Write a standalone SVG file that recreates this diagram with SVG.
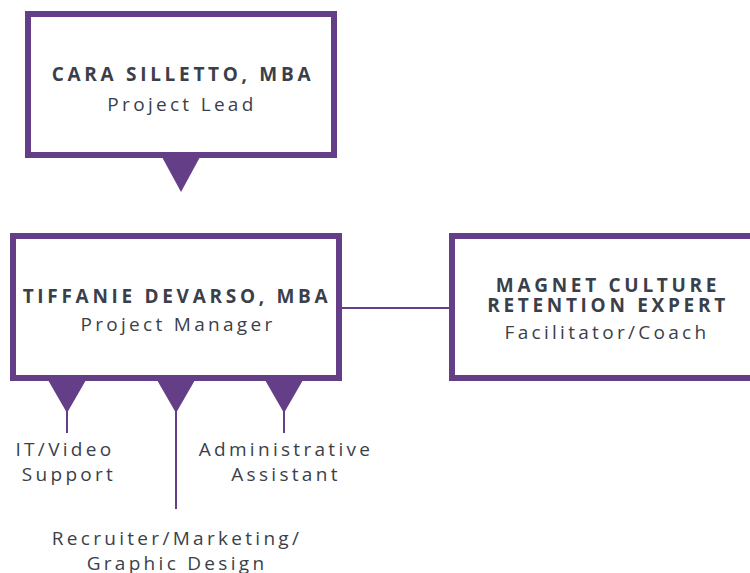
<svg xmlns="http://www.w3.org/2000/svg" width="750" height="573" viewBox="0 0 750 573">
  <style>
    .box { fill: #ffffff; stroke: #643f88; stroke-width: 6; }
    .pin { fill: #643f88; }
    .wire { stroke: #643f88; stroke-width: 2; fill: none; }
    .name { font-family: "Open Sans", "Liberation Sans", sans-serif; font-weight: 700; font-size: 19px; letter-spacing: 3.7px; fill: #3a3f4a; text-anchor: middle; }
    .role { font-family: "Open Sans", "Liberation Sans", sans-serif; font-size: 19px; letter-spacing: 3.3px; fill: #3a3f4a; text-anchor: middle; }
  </style>

  <rect width="750" height="573" fill="#ffffff"/>

  <!-- connectors -->
  <g id="connectors">
    <line class="wire" x1="342" y1="308" x2="449" y2="308"/>
    <line class="wire" x1="67" y1="405" x2="67" y2="433"/>
    <line class="wire" x1="176" y1="405" x2="176" y2="509"/>
    <line class="wire" x1="284" y1="405" x2="284" y2="433"/>
  </g>

  <!-- project lead -->
  <g id="node-lead">
    <rect class="box" x="28" y="14" width="306" height="141"/>
    <polygon class="pin" points="162,157 200,157 181,192"/>
    <text class="name" x="183" y="81">CARA SILLETTO, MBA</text>
    <text class="role" x="182" y="111">Project Lead</text>
  </g>

  <!-- project manager -->
  <g id="node-manager">
    <rect class="box" x="13" y="236" width="326" height="142"/>
    <polygon class="pin" points="48,380 86,380 67,413"/>
    <polygon class="pin" points="157,380 195,380 176,413"/>
    <polygon class="pin" points="265,380 303,380 284,413"/>
    <text class="name" x="177" y="303">TIFFANIE DEVARSO, MBA</text>
    <text class="role" x="178" y="331">Project Manager</text>
  </g>

  <!-- retention expert -->
  <g id="node-expert">
    <rect class="box" x="452" y="236" width="320" height="142"/>
    <text class="name" x="608" y="292">MAGNET CULTURE</text>
    <text class="name" x="608" y="312">RETENTION EXPERT</text>
    <text class="role" x="607" y="339">Facilitator/Coach</text>
  </g>

  <!-- support roles -->
  <g id="node-it">
    <text class="role" x="65" y="456">IT/Video</text>
    <text class="role" x="69" y="481">Support</text>
  </g>
  <g id="node-admin">
    <text class="role" x="286" y="456">Administrative</text>
    <text class="role" x="286" y="481">Assistant</text>
  </g>
  <g id="node-recruiter">
    <text class="role" x="177" y="545">Recruiter/Marketing/</text>
    <text class="role" x="177" y="570">Graphic Design</text>
  </g>
</svg>
